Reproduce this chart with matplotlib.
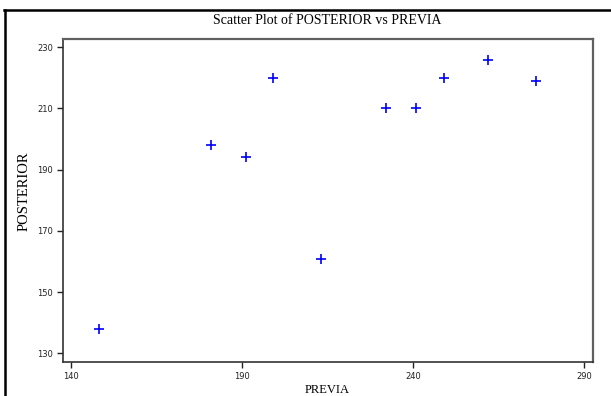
import matplotlib
matplotlib.use("Agg")
import matplotlib.pyplot as plt
from matplotlib.lines import Line2D

previa = [148, 181, 191, 199, 213, 232, 241, 249, 262, 276]
posterior = [138, 198, 194, 220, 161, 210, 210, 220, 226, 219]
xticks = [140, 190, 240, 290]
yticks = [130, 150, 170, 190, 210, 230]

W, H = 611, 396
fig = plt.figure(figsize=(W / 100, H / 100), dpi=100)
ax = fig.add_axes([62.6 / W, 1 - 362 / H, (592.7 - 62.6) / W, (362 - 39) / H])

ax.plot(previa, posterior, linestyle="none", marker="+", color="#0000ff",
        markersize=6.5, markeredgewidth=1.2)

ax.set_xlim(137.45, 292.6)
ax.set_ylim(127.2, 232.7)
ax.set_xticks(xticks)
ax.set_yticks(yticks)
ax.set_xticklabels([str(v) for v in xticks])
ax.set_yticklabels([str(v) for v in yticks])
ax.tick_params(direction="out", length=4, width=1, labelsize=6, pad=3, colors="#222222")
for s in ["left", "bottom"]:
    ax.spines[s].set_color("#333333")
    ax.spines[s].set_linewidth(1.2)
for s in ["top", "right"]:
    ax.spines[s].set_color("#606060")
    ax.spines[s].set_linewidth(1.6)

serif = ["Liberation Serif", "DejaVu Serif"]
fig.text(327.6 / W, 1 - 20 / H, "Scatter Plot of POSTERIOR vs PREVIA",
         ha="center", va="center", fontsize=10, family=serif)
fig.text(327.6 / W, 1 - 390 / H, "PREVIA", ha="center", va="center",
         fontsize=9, family=serif)
fig.text(24 / W, 1 - 191 / H, "POSTERIOR", ha="center", va="center",
         rotation=90, fontsize=10.5, family=serif)

# outer border lines (top and left)
fig.add_artist(Line2D([4 / W, 1], [1 - 10 / H, 1 - 10 / H], color="black", linewidth=1.8,
                      transform=fig.transFigure))
fig.add_artist(Line2D([5 / W, 5 / W], [0, 1 - 10 / H], color="black", linewidth=1.8,
                      transform=fig.transFigure))

fig.savefig("out.png", dpi=100)
